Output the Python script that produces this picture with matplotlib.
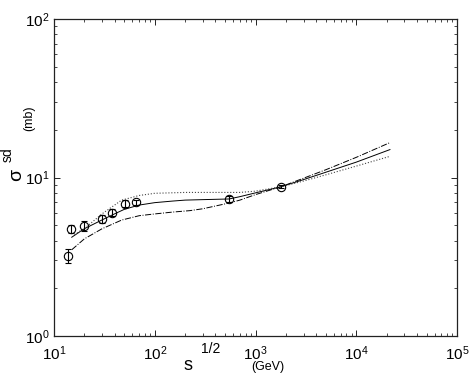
import matplotlib
matplotlib.use("Agg")
import matplotlib.pyplot as plt
from matplotlib.ticker import LogLocator, NullFormatter

plt.rcParams['font.family'] = ['Liberation Sans', 'DejaVu Sans']
plt.rcParams['mathtext.fontset'] = 'custom'
plt.rcParams['mathtext.rm'] = 'Liberation Sans'

# data points (sqrt(s) in GeV, sigma_sd in mb)
data_x = [13.8, 14.8, 19.9, 29.7, 37.6, 50.2, 64.7, 546, 1800]
data_y = [3.2, 4.75, 4.95, 5.5, 6.0, 6.85, 7.0, 7.3, 8.75]
data_err = [0.33, 0.3, 0.35, 0.3, 0.3, 0.35, 0.25, 0.3, 0.2]

# model curves
solid_x = [15, 20, 30, 40, 50, 70, 100, 150, 200, 300, 546, 700, 1000, 1800, 3000, 5000, 10000, 21600]
solid_y = [4.2, 4.75, 5.4, 5.9, 6.3, 6.7, 6.94, 7.1, 7.2, 7.25, 7.32, 7.57, 8.0, 8.75, 9.7, 10.8, 12.5, 15.0]

dashdot_x = [15, 20, 30, 47, 70, 100, 150, 224, 300, 546, 700, 1000, 1800, 3000, 5000, 10000, 21600]
dashdot_y = [3.5, 4.1, 4.75, 5.39, 5.74, 5.89, 6.05, 6.18, 6.35, 6.9, 7.2, 7.8, 8.75, 9.9, 11.2, 13.4, 16.6]

dotted_x = [16, 22, 30, 47, 70, 100, 200, 400, 700, 1000, 1800, 3000, 5000, 10000, 21600]
dotted_y = [4.35, 5.0, 5.9, 7.2, 7.7, 7.95, 8.05, 8.05, 8.05, 8.2, 8.75, 9.5, 10.4, 11.8, 13.6]

fig = plt.figure(figsize=(4.71, 3.73), dpi=100)
ax = fig.add_axes([54/471, 1-336/373, (457-54)/471, (336-19)/373])

ax.plot(solid_x, solid_y, '-', color='black', lw=0.7)
ax.plot(dashdot_x, dashdot_y, '-.', color='black', lw=0.7)
ax.plot(dotted_x, dotted_y, ':', color='#444444', lw=0.8)
ax.errorbar(data_x, data_y, yerr=data_err, fmt='o', mfc='none', mec='black',
            ecolor='black', ms=6, mew=0.8, elinewidth=0.8, capsize=2.5, capthick=0.8)

ax.set_xscale('log')
ax.set_yscale('log')
ax.set_xlim(10, 1e5)
ax.set_ylim(1, 100)
ax.xaxis.set_major_locator(LogLocator(base=10, numticks=10))
ax.yaxis.set_major_locator(LogLocator(base=10, numticks=10))
ax.xaxis.set_minor_locator(LogLocator(base=10, subs=range(2, 10), numticks=20))
ax.yaxis.set_minor_locator(LogLocator(base=10, subs=range(2, 10), numticks=20))
ax.xaxis.set_minor_formatter(NullFormatter())
ax.yaxis.set_minor_formatter(NullFormatter())
ax.tick_params(which='both', direction='in', top=True, right=True, labelsize=11)
ax.tick_params(which='major', length=4, width=0.6)
ax.tick_params(which='minor', length=2, width=0.5)
ax.tick_params(axis='x', pad=6)
for s in ax.spines.values():
    s.set_linewidth(0.9)
    s.set_color('#222222')

# axis labels
fig.text(188/471, 1-366/373, 's', fontsize=13, ha='center', va='center')
fig.text(211/471, 1-349/373, '1/2', fontsize=10, ha='center', va='center')
fig.text(268/471, 1-367/373, '(GeV)', fontsize=9, ha='center', va='center')

fig.text(17/471, 1-175/373, 'σ', fontsize=14, ha='center', va='center', rotation=90)
fig.text(8/471, 1-155/373, 'sd', fontsize=10, ha='center', va='center', rotation=90)
fig.text(29/471, 1-118/373, '(mb)', fontsize=9, ha='center', va='center', rotation=90)

fig.savefig('out.png', dpi=100)
